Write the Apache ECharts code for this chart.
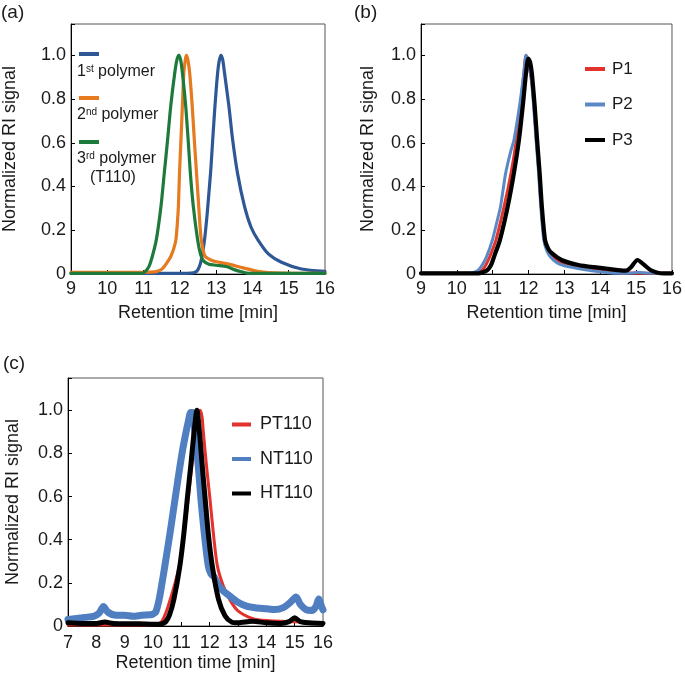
<!DOCTYPE html>
<html><head><meta charset="utf-8">
<script src="https://cdn.jsdelivr.net/npm/echarts@6/dist/echarts.min.js"></script>
<style>html,body{margin:0;padding:0;background:#fff}#c{width:685px;height:673px}</style>
</head><body><div id="c"></div>
<script>
// ---------- Panel (a) ----------
const aFirstPolymer = [[9,0.003],[11,0.003],[12,0.003],[12.3,0.004],[12.42,0.008],[12.5,0.02],[12.57,0.05],[12.63,0.1],[12.69,0.17],[12.75,0.27],[12.8,0.37],[12.85,0.47],[12.9,0.6],[12.96,0.75],[13.03,0.9],[13.08,0.97],[13.13,1.0],[13.18,0.98],[13.23,0.92],[13.35,0.77],[13.45,0.62],[13.59,0.46],[13.78,0.31],[13.96,0.215],[14.16,0.154],[14.44,0.092],[14.8,0.054],[15.35,0.023],[16,0.012]];
const aSecondPolymer = [[9,0.008],[10,0.008],[11,0.008],[11.3,0.01],[11.4,0.014],[11.5,0.022],[11.57,0.034],[11.66,0.055],[11.75,0.08],[11.83,0.115],[11.89,0.155],[11.93,0.23],[11.96,0.31],[11.99,0.46],[12.03,0.61],[12.07,0.77],[12.11,0.92],[12.15,0.98],[12.18,1.0],[12.22,0.98],[12.27,0.92],[12.34,0.77],[12.4,0.61],[12.46,0.46],[12.52,0.31],[12.58,0.17],[12.64,0.11],[12.7,0.08],[12.85,0.064],[13.0,0.056],[13.2,0.05],[13.4,0.043],[13.7,0.03],[14.05,0.016],[14.3,0.009],[14.6,0.005],[15.1,0.003],[16,0.003]];
const aThirdPolymer = [[9,0.003],[10,0.003],[10.95,0.003],[11.05,0.012],[11.15,0.035],[11.24,0.08],[11.35,0.155],[11.48,0.31],[11.57,0.46],[11.66,0.61],[11.75,0.77],[11.86,0.92],[11.92,0.98],[11.97,1.0],[12.02,0.98],[12.07,0.92],[12.16,0.77],[12.23,0.61],[12.29,0.46],[12.37,0.31],[12.49,0.155],[12.57,0.09],[12.65,0.06],[12.8,0.045],[13.0,0.04],[13.3,0.033],[13.5,0.02],[13.7,0.01],[13.9,0.003],[16,0.003]];
// ---------- Panel (b) ----------
const bP1 = [[9,0.003],[10,0.003],[10.5,0.003],[10.6,0.008],[10.72,0.02],[10.82,0.045],[10.92,0.08],[11.09,0.155],[11.32,0.31],[11.51,0.46],[11.66,0.61],[11.78,0.77],[11.87,0.92],[11.93,1.0],[11.99,0.97],[12.07,0.9],[12.15,0.77],[12.22,0.61],[12.29,0.46],[12.35,0.31],[12.43,0.17],[12.5,0.12],[12.6,0.09],[12.8,0.06],[13.0,0.045],[13.5,0.03],[14.0,0.015],[14.5,0.006],[15,0.004],[16,0.003]];
const bP2 = [[9,0.003],[10,0.003],[10.35,0.003],[10.47,0.007],[10.6,0.018],[10.72,0.045],[10.83,0.08],[10.99,0.155],[11.12,0.24],[11.22,0.31],[11.36,0.46],[11.5,0.56],[11.59,0.61],[11.75,0.77],[11.87,0.92],[11.93,1.0],[11.99,0.97],[12.07,0.9],[12.14,0.77],[12.21,0.61],[12.28,0.46],[12.34,0.31],[12.42,0.16],[12.5,0.11],[12.6,0.08],[12.8,0.05],[13.0,0.038],[13.5,0.022],[14.0,0.01],[14.5,0.003],[14.9,0.004],[15.05,0.008],[15.3,0.004],[16,0.002]];
const bP3 = [[9,0.003],[10,0.003],[10.6,0.003],[10.72,0.008],[10.85,0.018],[10.95,0.04],[11.04,0.08],[11.2,0.155],[11.42,0.31],[11.59,0.46],[11.73,0.61],[11.84,0.77],[11.93,0.92],[11.99,0.985],[12.04,0.97],[12.09,0.92],[12.17,0.77],[12.24,0.61],[12.31,0.46],[12.37,0.31],[12.46,0.155],[12.55,0.115],[12.65,0.095],[12.92,0.064],[13.39,0.041],[13.94,0.029],[14.49,0.018],[14.72,0.015],[14.85,0.03],[15.04,0.064],[15.2,0.045],[15.4,0.018],[15.6,0.006],[15.77,0.003],[16,0.003]];
// ---------- Panel (c) ----------
const cPT110 = [[7,0.005],[9,0.005],[10.05,0.005],[10.15,0.008],[10.3,0.02],[10.45,0.06],[10.6,0.12],[10.78,0.2],[10.93,0.28],[11.1,0.43],[11.24,0.59],[11.37,0.74],[11.5,0.895],[11.58,0.97],[11.66,1.0],[11.73,0.97],[11.78,0.895],[11.89,0.74],[12.01,0.59],[12.13,0.43],[12.27,0.28],[12.48,0.186],[12.72,0.12],[13,0.07],[13.5,0.035],[14,0.025],[15,0.02],[16,0.015]];
const cNT110 = [[7,0.03],[7.3,0.035],[7.6,0.04],[7.9,0.045],[8.1,0.06],[8.25,0.09],[8.4,0.065],[8.7,0.05],[9,0.05],[9.3,0.045],[9.6,0.05],[9.9,0.052],[10.0,0.055],[10.1,0.065],[10.22,0.125],[10.32,0.2],[10.42,0.28],[10.51,0.355],[10.6,0.43],[10.69,0.51],[10.78,0.59],[10.87,0.67],[10.95,0.74],[11.05,0.82],[11.16,0.895],[11.25,0.95],[11.33,0.99],[11.4,0.99],[11.48,0.895],[11.6,0.74],[11.69,0.59],[11.81,0.43],[11.95,0.28],[12.05,0.24],[12.15,0.23],[12.3,0.19],[12.5,0.16],[12.7,0.14],[13,0.11],[13.3,0.092],[13.6,0.085],[14,0.08],[14.3,0.076],[14.6,0.085],[14.85,0.11],[15.05,0.135],[15.2,0.1],[15.4,0.076],[15.6,0.072],[15.75,0.09],[15.85,0.125],[15.95,0.09],[16,0.075]];
const cHT110 = [[7,0.015],[7.5,0.012],[8,0.012],[8.3,0.018],[8.6,0.012],[9,0.01],[9.5,0.01],[10,0.008],[10.3,0.01],[10.45,0.02],[10.58,0.05],[10.74,0.125],[10.95,0.28],[11.09,0.43],[11.21,0.59],[11.33,0.74],[11.45,0.9],[11.55,1.0],[11.64,0.9],[11.74,0.74],[11.84,0.59],[11.95,0.43],[12.09,0.28],[12.31,0.125],[12.54,0.048],[12.78,0.018],[13,0.015],[13.5,0.022],[14,0.015],[14.5,0.012],[14.8,0.02],[15,0.038],[15.2,0.02],[15.5,0.015],[16,0.012]];

const yTicksLabel = v => (Math.abs(v) < 1e-9 ? '0' : (Math.abs(v * 5 - Math.round(v * 5)) < 1e-6 ? v.toFixed(1) : ''));
const FONT = 'Liberation Sans, Arial, sans-serif';
const TXT = '#1a1a1a';

const chart = echarts.init(document.getElementById('c'), null, {renderer: 'canvas'});

function xAx(idx, min, max, margin, gap) {
  return {gridIndex: idx, type: 'value', min: min, max: max, interval: 1,
    name: 'Retention time [min]', nameLocation: 'middle', nameGap: gap,
    nameTextStyle: {fontFamily: FONT, fontSize: 18, color: TXT},
    axisLine: {show: true, onZero: false, lineStyle: {color: '#000', width: 1}},
    axisTick: {show: true, inside: true, length: 4, lineStyle: {color: '#000'}},
    axisLabel: {margin: margin, fontFamily: FONT, fontSize: 18, color: TXT},
    splitLine: {show: false}};
}
function yAx(idx, max, gap) {
  return {gridIndex: idx, type: 'value', min: 0, max: max, interval: 0.2,
    name: 'Normalized RI signal', nameLocation: 'middle', nameGap: gap,
    nameTextStyle: {fontFamily: FONT, fontSize: 18, color: TXT},
    axisLine: {show: true, onZero: false, lineStyle: {color: '#000', width: 1}},
    axisTick: {show: true, inside: true, length: 4, lineStyle: {color: '#000'}},
    axisLabel: {margin: 5, fontFamily: FONT, fontSize: 18, color: TXT, formatter: yTicksLabel},
    splitLine: {show: false}};
}
function line(name, data, xi, color, width, z) {
  return {name: name, type: 'line', xAxisIndex: xi, yAxisIndex: xi, data: data,
    showSymbol: false, symbol: 'none', smooth: 0.25, z: z,
    lineStyle: {color: color, width: width, cap: 'round', join: 'round'}, itemStyle: {color: color}};
}

const cBlueA = '#2e5795', cOrange = '#e57a1f', cGreen = '#1d7a3b';
const cRed = '#e3312b', cBlueB = '#5a89c6', cBlack = '#000000';

chart.setOption({
  animation: false,
  backgroundColor: '#fff',
  textStyle: {fontFamily: FONT},
  grid: [
    {left: 67, top: 24, width: 258, height: 250, show: true, borderColor: '#555', borderWidth: 1, backgroundColor: 'transparent'},
    {left: 421, top: 24, width: 254, height: 250, show: true, borderColor: '#555', borderWidth: 1, backgroundColor: 'transparent'},
    {left: 68, top: 378, width: 255, height: 249, show: true, borderColor: '#555', borderWidth: 1, backgroundColor: 'transparent'}
  ],
  xAxis: [xAx(0, 9, 16, 6, 30), xAx(1, 9, 16, 6, 30), xAx(2, 7, 16, 8, 28)],
  yAxis: [yAx(0, 1.143, 52), yAx(1, 1.143, 44), yAx(2, 1.15, 46)],
  legend: [
    {data: ['P1', 'P2', 'P3'], orient: 'vertical', left: 580, top: 55, itemWidth: 20, itemHeight: 4, itemGap: 17.5, icon: 'rect',
      textStyle: {fontFamily: FONT, fontSize: 17, color: TXT, lineHeight: 18, padding: [0, 0, 0, 2]}, selectedMode: false},
    {data: ['PT110', 'NT110', 'HT110'], orient: 'vertical', left: 227, top: 410, itemWidth: 19, itemHeight: 4, itemGap: 15.5, icon: 'rect',
      textStyle: {fontFamily: FONT, fontSize: 18, color: TXT, lineHeight: 19, padding: [0, 0, 0, 4]}, selectedMode: false}
  ],
  graphic: [
    {type: 'text', left: 1, top: 3, style: {text: '(a)', font: '19px ' + FONT, fill: TXT}},
    {type: 'text', left: 354, top: 3, style: {text: '(b)', font: '19px ' + FONT, fill: TXT}},
    {type: 'text', left: 3, top: 354, style: {text: '(c)', font: '19px ' + FONT, fill: TXT}},
    {type: 'line', shape: {x1: 79, y1: 54, x2: 99, y2: 54}, style: {stroke: cBlueA, lineWidth: 4}},
    {type: 'line', shape: {x1: 79, y1: 98, x2: 99, y2: 98}, style: {stroke: cOrange, lineWidth: 4}},
    {type: 'line', shape: {x1: 79, y1: 142, x2: 99, y2: 142}, style: {stroke: cGreen, lineWidth: 4}},
    {type: 'text', x: 77, y: 72, style: {text: '1{s|st} polymer', fill: TXT, font: '16px ' + FONT, verticalAlign: 'middle',
      rich: {s: {fontSize: 10, fontFamily: FONT, verticalAlign: 'top', lineHeight: 14, fill: TXT}}}},
    {type: 'text', x: 77, y: 115, style: {text: '2{s|nd} polymer', fill: TXT, font: '16px ' + FONT, verticalAlign: 'middle',
      rich: {s: {fontSize: 10, fontFamily: FONT, verticalAlign: 'top', lineHeight: 14, fill: TXT}}}},
    {type: 'text', x: 77, y: 159, style: {text: '3{s|rd} polymer', fill: TXT, font: '16px ' + FONT, verticalAlign: 'middle',
      rich: {s: {fontSize: 10, fontFamily: FONT, verticalAlign: 'top', lineHeight: 14, fill: TXT}}}},
    {type: 'text', x: 90, y: 178, style: {text: '(T110)', fill: TXT, font: '16px ' + FONT, verticalAlign: 'middle'}}
  ],
  series: [
    line('1st polymer', aFirstPolymer, 0, cBlueA, 3.2, 3),
    line('2nd polymer', aSecondPolymer, 0, cOrange, 3.2, 4),
    line('3rd polymer', aThirdPolymer, 0, cGreen, 3.2, 5),
    line('P1', bP1, 1, cRed, 3, 3),
    line('P2', bP2, 1, cBlueB, 3, 4),
    line('P3', bP3, 1, cBlack, 4.2, 5),
    line('PT110', cPT110, 2, cRed, 3, 3),
    line('NT110', cNT110, 2, '#4f7fc0', 7, 4),
    line('HT110', cHT110, 2, cBlack, 5, 5)
  ]
});
</script></body></html>
